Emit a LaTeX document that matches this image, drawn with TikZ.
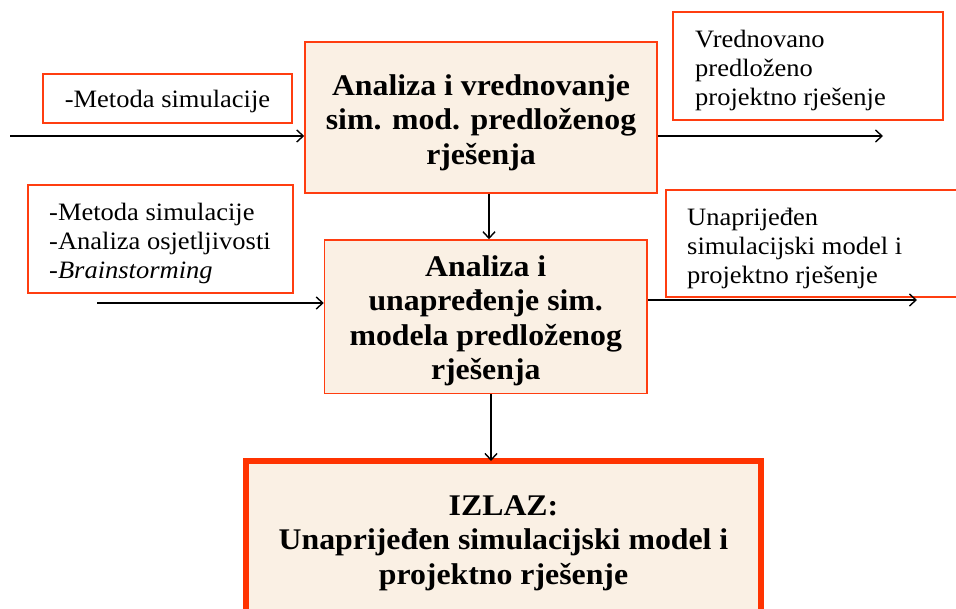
\documentclass[tikz,border=0pt]{standalone}
\usepackage{fontspec}
\setmainfont[FakeStretch=1.06]{Liberation Serif}
\usetikzlibrary{arrows.meta}
\definecolor{bordred}{HTML}{FF3D10}
\definecolor{thickred}{HTML}{FF3300}
\definecolor{beige}{HTML}{FAF0E4}
\tikzset{
  reg/.style={font=\fontsize{25}{29}\selectfont, inner sep=0pt},
  bld/.style={font=\fontsize{30}{34.5}\selectfont\bfseries, inner sep=0pt, align=center},
  mainbox/.style={draw=bordred, line width=1.5pt, fill=beige, inner sep=0pt},
  infobox/.style={draw=bordred, line width=1.5pt, fill=white, inner sep=0pt},
  conn/.style={line width=1.5pt, -{Straight Barb[length=6.5pt,width=12pt,line width=1.4pt]}},
}
\begin{document}
\begin{tikzpicture}[x=1pt,y=-1pt]
\useasboundingbox (0,0) rectangle (956,609);
\fill[white] (0,0) rectangle (956,609);
\clip (0,0) rectangle (956,609);

% main boxes
\node[mainbox, minimum width=352pt, minimum height=151pt] (A) at (481,117.5) {};
\node[bld] (At) at (481,122.5) {Analiza i vrednovanje\\sim. mod. predloženog\\rješenja};
\node[mainbox, minimum width=322.5pt, minimum height=153.5pt] (B) at (485.75,316.75) {};
\node[bld] (Bt) at (485.75,321) {Analiza i\\unapređenje sim.\\modela predloženog\\rješenja};
\node[mainbox, draw=thickred, line width=6pt, minimum width=515pt, minimum height=160pt] (C) at (503.5,541) {};
\node[bld] (Ct) at (503.5,543) {IZLAZ:\\Unaprijeđen simulacijski model i\\projektno rješenje};

% side boxes
\node[infobox, minimum width=249pt, minimum height=49pt] (in1) at (167.5,98.5) {};
\node[reg] (in1t) at (167.5,101) {-Metoda simulacije};
\node[infobox, minimum width=265pt, minimum height=108pt] (in2) at (160.5,239) {};
\node[reg, align=left, anchor=west] (in2t) at (49,243) {-Metoda simulacije\\-Analiza osjetljivosti\\-\textit{Brainstorming}};
\node[infobox, minimum width=270pt, minimum height=108pt] (out1) at (808,66) {};
\node[reg, align=left, anchor=west] (out1t) at (695,70) {Vrednovano\\predloženo\\projektno rješenje};
\node[infobox, minimum width=314pt, minimum height=107pt] (out2) at (823,243.5) {};
\node[reg, align=left, anchor=west] (out2t) at (687,248.5) {Unaprijeđen\\simulacijski model i\\projektno rješenje};

% free ends of connectors
\coordinate (s1) at (10,136);
\coordinate (e1) at (883,136);
\coordinate (s2) at (97,303);
\coordinate (e2) at (917,300);
\coordinate (xab) at (489,0);
\coordinate (xbc) at (491,0);

% connectors
\draw[conn] (s1) -- (A.west |- s1);
\draw[conn] (A.east |- e1) -- (e1);
\draw[conn] (A.south -| xab) -- (B.north -| xab);
\draw[conn] (s2) -- (B.west |- s2);
\draw[conn] (B.east |- e2) -- (e2);
\draw[conn] (B.south -| xbc) -- ([yshift=-3pt]C.north -| xbc);
\end{tikzpicture}
\end{document}
